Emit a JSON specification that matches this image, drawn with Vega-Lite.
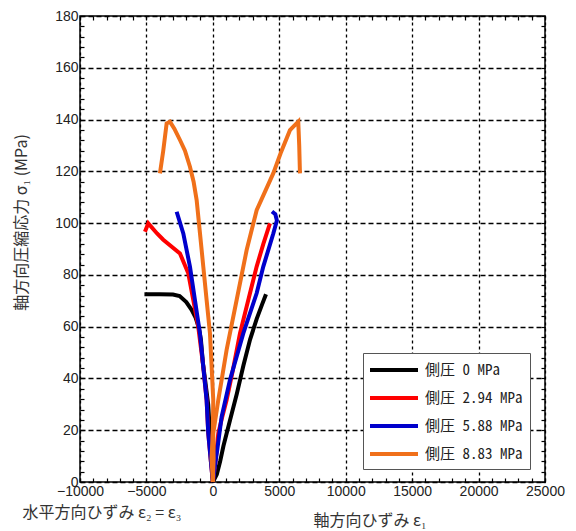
{
  "$schema": "https://vega.github.io/schema/vega-lite/v6.json",
  "width": 465,
  "height": 466,
  "autosize": "none",
  "padding": {"left": 80, "top": 16, "right": 31, "bottom": 49},
  "background": "white",
  "config": {
    "view": {"stroke": "black", "strokeWidth": 1.5},
    "axis": {"labelFont": "Liberation Sans", "labelFontSize": 14, "labelColor": "#222", "titleFont": "Noto Sans CJK JP", "titleFontWeight": "normal", "titleFontSize": 16, "titleColor": "#333"}
  },
  "data": {"values": [
    {"s": "側圧 0 MPa", "p": "a", "i": 0, "x": 0, "y": 0},
    {"s": "側圧 0 MPa", "p": "a", "i": 1, "x": 300, "y": 3},
    {"s": "側圧 0 MPa", "p": "a", "i": 2, "x": 550, "y": 8},
    {"s": "側圧 0 MPa", "p": "a", "i": 3, "x": 800, "y": 14},
    {"s": "側圧 0 MPa", "p": "a", "i": 4, "x": 1300, "y": 24},
    {"s": "側圧 0 MPa", "p": "a", "i": 5, "x": 1800, "y": 34},
    {"s": "側圧 0 MPa", "p": "a", "i": 6, "x": 2300, "y": 45},
    {"s": "側圧 0 MPa", "p": "a", "i": 7, "x": 2800, "y": 55},
    {"s": "側圧 0 MPa", "p": "a", "i": 8, "x": 3300, "y": 63},
    {"s": "側圧 0 MPa", "p": "a", "i": 9, "x": 3700, "y": 68.5},
    {"s": "側圧 0 MPa", "p": "a", "i": 10, "x": 4000, "y": 72.5},
    {"s": "側圧 0 MPa", "p": "l", "i": 0, "x": 0, "y": 0},
    {"s": "側圧 0 MPa", "p": "l", "i": 1, "x": -120, "y": 10},
    {"s": "側圧 0 MPa", "p": "l", "i": 2, "x": -220, "y": 19},
    {"s": "側圧 0 MPa", "p": "l", "i": 3, "x": -350, "y": 30},
    {"s": "側圧 0 MPa", "p": "l", "i": 4, "x": -550, "y": 38},
    {"s": "側圧 0 MPa", "p": "l", "i": 5, "x": -750, "y": 46},
    {"s": "側圧 0 MPa", "p": "l", "i": 6, "x": -900, "y": 55},
    {"s": "側圧 0 MPa", "p": "l", "i": 7, "x": -1050, "y": 59.5},
    {"s": "側圧 0 MPa", "p": "l", "i": 8, "x": -1300, "y": 63.5},
    {"s": "側圧 0 MPa", "p": "l", "i": 9, "x": -1600, "y": 66.5},
    {"s": "側圧 0 MPa", "p": "l", "i": 10, "x": -2000, "y": 69.5},
    {"s": "側圧 0 MPa", "p": "l", "i": 11, "x": -2500, "y": 71.8},
    {"s": "側圧 0 MPa", "p": "l", "i": 12, "x": -3000, "y": 72.4},
    {"s": "側圧 0 MPa", "p": "l", "i": 13, "x": -4000, "y": 72.5},
    {"s": "側圧 0 MPa", "p": "l", "i": 14, "x": -5150, "y": 72.5},
    {"s": "側圧 2.94 MPa", "p": "a", "i": 0, "x": 0, "y": 0},
    {"s": "側圧 2.94 MPa", "p": "a", "i": 1, "x": 200, "y": 8},
    {"s": "側圧 2.94 MPa", "p": "a", "i": 2, "x": 409, "y": 18.8},
    {"s": "側圧 2.94 MPa", "p": "a", "i": 3, "x": 700, "y": 25},
    {"s": "側圧 2.94 MPa", "p": "a", "i": 4, "x": 1036, "y": 31.7},
    {"s": "側圧 2.94 MPa", "p": "a", "i": 5, "x": 1500, "y": 43},
    {"s": "側圧 2.94 MPa", "p": "a", "i": 6, "x": 2040, "y": 57.4},
    {"s": "側圧 2.94 MPa", "p": "a", "i": 7, "x": 2700, "y": 71},
    {"s": "側圧 2.94 MPa", "p": "a", "i": 8, "x": 3297, "y": 83.2},
    {"s": "側圧 2.94 MPa", "p": "a", "i": 9, "x": 3800, "y": 92},
    {"s": "側圧 2.94 MPa", "p": "a", "i": 10, "x": 4298, "y": 99.9},
    {"s": "側圧 2.94 MPa", "p": "l", "i": 0, "x": 0, "y": 0},
    {"s": "側圧 2.94 MPa", "p": "l", "i": 1, "x": -150, "y": 8},
    {"s": "側圧 2.94 MPa", "p": "l", "i": 2, "x": -345, "y": 18.8},
    {"s": "側圧 2.94 MPa", "p": "l", "i": 3, "x": -470, "y": 31.7},
    {"s": "側圧 2.94 MPa", "p": "l", "i": 4, "x": -720, "y": 44.5},
    {"s": "側圧 2.94 MPa", "p": "l", "i": 5, "x": -1099, "y": 60},
    {"s": "側圧 2.94 MPa", "p": "l", "i": 6, "x": -1475, "y": 70.3},
    {"s": "側圧 2.94 MPa", "p": "l", "i": 7, "x": -1850, "y": 80.6},
    {"s": "側圧 2.94 MPa", "p": "l", "i": 8, "x": -2476, "y": 88.3},
    {"s": "側圧 2.94 MPa", "p": "l", "i": 9, "x": -3733, "y": 93.6},
    {"s": "側圧 2.94 MPa", "p": "l", "i": 10, "x": -4200, "y": 96},
    {"s": "側圧 2.94 MPa", "p": "l", "i": 11, "x": -4862, "y": 99.9},
    {"s": "側圧 2.94 MPa", "p": "l", "i": 12, "x": -5111, "y": 96.7},
    {"s": "側圧 5.88 MPa", "p": "a", "i": 0, "x": 0, "y": 0},
    {"s": "側圧 5.88 MPa", "p": "a", "i": 1, "x": 150, "y": 6},
    {"s": "側圧 5.88 MPa", "p": "a", "i": 2, "x": 330, "y": 12.4},
    {"s": "側圧 5.88 MPa", "p": "a", "i": 3, "x": 660, "y": 25.2},
    {"s": "側圧 5.88 MPa", "p": "a", "i": 4, "x": 1287, "y": 39.4},
    {"s": "側圧 5.88 MPa", "p": "a", "i": 5, "x": 2290, "y": 57.4},
    {"s": "側圧 5.88 MPa", "p": "a", "i": 6, "x": 3297, "y": 72.9},
    {"s": "側圧 5.88 MPa", "p": "a", "i": 7, "x": 3795, "y": 83.2},
    {"s": "側圧 5.88 MPa", "p": "a", "i": 8, "x": 4550, "y": 96},
    {"s": "側圧 5.88 MPa", "p": "a", "i": 9, "x": 4820, "y": 101},
    {"s": "側圧 5.88 MPa", "p": "a", "i": 10, "x": 4700, "y": 103.5},
    {"s": "側圧 5.88 MPa", "p": "a", "i": 11, "x": 4450, "y": 104.5},
    {"s": "側圧 5.88 MPa", "p": "l", "i": 0, "x": 0, "y": 0},
    {"s": "側圧 5.88 MPa", "p": "l", "i": 1, "x": -150, "y": 8},
    {"s": "側圧 5.88 MPa", "p": "l", "i": 2, "x": -345, "y": 18.8},
    {"s": "側圧 5.88 MPa", "p": "l", "i": 3, "x": -470, "y": 31.7},
    {"s": "側圧 5.88 MPa", "p": "l", "i": 4, "x": -720, "y": 44.5},
    {"s": "側圧 5.88 MPa", "p": "l", "i": 5, "x": -972, "y": 57.4},
    {"s": "側圧 5.88 MPa", "p": "l", "i": 6, "x": -1349, "y": 70.3},
    {"s": "側圧 5.88 MPa", "p": "l", "i": 7, "x": -1724, "y": 83.2},
    {"s": "側圧 5.88 MPa", "p": "l", "i": 8, "x": -2225, "y": 96},
    {"s": "側圧 5.88 MPa", "p": "l", "i": 9, "x": -2725, "y": 104.4},
    {"s": "側圧 8.83 MPa", "p": "a", "i": 0, "x": 0, "y": 0},
    {"s": "側圧 8.83 MPa", "p": "a", "i": 1, "x": 60, "y": 9},
    {"s": "側圧 8.83 MPa", "p": "a", "i": 2, "x": 30, "y": 18.8},
    {"s": "側圧 8.83 MPa", "p": "a", "i": 3, "x": 409, "y": 31.7},
    {"s": "側圧 8.83 MPa", "p": "a", "i": 4, "x": 1036, "y": 51},
    {"s": "側圧 8.83 MPa", "p": "a", "i": 5, "x": 1790, "y": 70.3},
    {"s": "側圧 8.83 MPa", "p": "a", "i": 6, "x": 2544, "y": 89.6},
    {"s": "側圧 8.83 MPa", "p": "a", "i": 7, "x": 3297, "y": 105},
    {"s": "側圧 8.83 MPa", "p": "a", "i": 8, "x": 4546, "y": 119.2},
    {"s": "側圧 8.83 MPa", "p": "a", "i": 9, "x": 5100, "y": 127},
    {"s": "側圧 8.83 MPa", "p": "a", "i": 10, "x": 5803, "y": 135.9},
    {"s": "側圧 8.83 MPa", "p": "a", "i": 11, "x": 6428, "y": 139.2},
    {"s": "側圧 8.83 MPa", "p": "a", "i": 12, "x": 6500, "y": 130},
    {"s": "側圧 8.83 MPa", "p": "a", "i": 13, "x": 6556, "y": 119.2},
    {"s": "側圧 8.83 MPa", "p": "l", "i": 0, "x": 0, "y": 0},
    {"s": "側圧 8.83 MPa", "p": "l", "i": 1, "x": -100, "y": 9},
    {"s": "側圧 8.83 MPa", "p": "l", "i": 2, "x": 0, "y": 20},
    {"s": "側圧 8.83 MPa", "p": "l", "i": 3, "x": 30, "y": 31.7},
    {"s": "側圧 8.83 MPa", "p": "l", "i": 4, "x": -92, "y": 44.5},
    {"s": "側圧 8.83 MPa", "p": "l", "i": 5, "x": -218, "y": 57.4},
    {"s": "側圧 8.83 MPa", "p": "l", "i": 6, "x": -470, "y": 70.3},
    {"s": "側圧 8.83 MPa", "p": "l", "i": 7, "x": -720, "y": 83.2},
    {"s": "側圧 8.83 MPa", "p": "l", "i": 8, "x": -970, "y": 96.1},
    {"s": "側圧 8.83 MPa", "p": "l", "i": 9, "x": -1220, "y": 108.9},
    {"s": "側圧 8.83 MPa", "p": "l", "i": 10, "x": -1450, "y": 116},
    {"s": "側圧 8.83 MPa", "p": "l", "i": 11, "x": -1724, "y": 121.8},
    {"s": "側圧 8.83 MPa", "p": "l", "i": 12, "x": -2100, "y": 128},
    {"s": "側圧 8.83 MPa", "p": "l", "i": 13, "x": -2476, "y": 132.1},
    {"s": "側圧 8.83 MPa", "p": "l", "i": 14, "x": -2900, "y": 136.5},
    {"s": "側圧 8.83 MPa", "p": "l", "i": 15, "x": -3230, "y": 139.2},
    {"s": "側圧 8.83 MPa", "p": "l", "i": 16, "x": -3480, "y": 138.5},
    {"s": "側圧 8.83 MPa", "p": "l", "i": 17, "x": -3733, "y": 128},
    {"s": "側圧 8.83 MPa", "p": "l", "i": 18, "x": -3982, "y": 119.2}
  ]},
  "resolve": {"axis": {"x": "independent", "y": "independent"}},
  "layer": [
    {
      "mark": {"type": "line", "opacity": 0},
      "encoding": {
        "x": {"field": "x", "type": "quantitative", "scale": {"domain": [-10000, 25000], "nice": false},
          "axis": {"orient": "top", "values": [-10000,-9000,-8000,-7000,-6000,-5000,-4000,-3000,-2000,-1000,0,1000,2000,3000,4000,5000,6000,7000,8000,9000,10000,11000,12000,13000,14000,15000,16000,17000,18000,19000,20000,21000,22000,23000,24000,25000],
            "labels": false, "grid": false, "domain": false, "title": null, "tickSize": -4, "tickColor": "black", "tickWidth": 1.2}},
        "y": {"field": "y", "type": "quantitative", "scale": {"domain": [0, 180], "nice": false},
          "axis": {"orient": "right", "values": [0,4,8,12,16,20,24,28,32,36,40,44,48,52,56,60,64,68,72,76,80,84,88,92,96,100,104,108,112,116,120,124,128,132,136,140,144,148,152,156,160,164,168,172,176,180],
            "labels": false, "grid": false, "domain": false, "title": null, "tickSize": -4, "tickColor": "black", "tickWidth": 1.2}},
        "detail": {"field": "p"},
        "order": {"field": "i"}
      }
    },
    {
      "mark": {"type": "line", "opacity": 0},
      "encoding": {
        "x": {"field": "x", "type": "quantitative", "scale": {"domain": [-10000, 25000], "nice": false},
          "axis": {"orient": "bottom", "labels": false, "ticks": false, "grid": false, "domain": false,
            "title": "水平方向ひずみ ε₂ = ε₃", "titleAnchor": "start", "titleAlign": "left", "titleBaseline": "alphabetic", "titleX": -58, "titleY": 35}},
        "y": {"field": "y", "type": "quantitative", "axis": null},
        "detail": {"field": "p"},
        "order": {"field": "i"}
      }
    },
    {
      "mark": {"type": "line", "strokeWidth": 4},
      "encoding": {
        "x": {"field": "x", "type": "quantitative", "scale": {"domain": [-10000, 25000], "nice": false},
          "axis": {"orient": "bottom", "values": [-10000,-9000,-8000,-7000,-6000,-5000,-4000,-3000,-2000,-1000,0,1000,2000,3000,4000,5000,6000,7000,8000,9000,10000,11000,12000,13000,14000,15000,16000,17000,18000,19000,20000,21000,22000,23000,24000,25000],
            "labelExpr": "datum.value % 5000 == 0 ? replace(format(datum.value, 'd'), '-', '−') : ''", "labelPadding": 6, "labelFlush": false,
            "grid": true, "gridColor": "black", "gridWidth": 1.3, "gridDash": [3, 3],
            "gridOpacity": {"condition": {"test": "datum.value % 5000 == 0", "value": 1}, "value": 0},
            "domain": false, "tickSize": -4, "tickColor": "black", "tickWidth": 1.2,
            "title": "軸方向ひずみ ε₁", "titleAnchor": "start", "titleAlign": "left", "titleBaseline": "alphabetic", "titleX": 233, "titleY": 43}},
        "y": {"field": "y", "type": "quantitative", "scale": {"domain": [0, 180], "nice": false},
          "axis": {"orient": "left", "values": [0,4,8,12,16,20,24,28,32,36,40,44,48,52,56,60,64,68,72,76,80,84,88,92,96,100,104,108,112,116,120,124,128,132,136,140,144,148,152,156,160,164,168,172,176,180],
            "labelExpr": "datum.value % 20 == 0 ? datum.label : ''", "labelPadding": 6, "labelFlush": false,
            "grid": true, "gridColor": "black", "gridWidth": 1.3, "gridDash": [5, 3],
            "gridOpacity": {"condition": {"test": "datum.value % 20 == 0", "value": 1}, "value": 0},
            "domain": false, "tickSize": -4, "tickColor": "black", "tickWidth": 1.2,
            "title": "軸方向圧縮応力 σ₁ (MPa)", "titleAnchor": "middle", "titleAngle": -90, "titleX": -54, "titleY": 206, "titleBaseline": "alphabetic"}},
        "color": {"field": "s", "type": "nominal",
          "scale": {"domain": ["側圧 0 MPa", "側圧 2.94 MPa", "側圧 5.88 MPa", "側圧 8.83 MPa"], "range": ["#000000", "#ff0000", "#0000cc", "#f0701a"]},
          "legend": {"orient": "none", "legendX": 283, "legendY": 337, "title": null, "symbolType": "M-3,0H3", "symbolSize": 256, "symbolStrokeWidth": 4, "symbolOffset": 14,
            "labelFont": "Noto Sans Mono CJK JP", "labelFontSize": 15, "labelColor": "#222", "rowPadding": 10, "labelOffset": 21,
            "fillColor": "white", "strokeColor": "#555", "padding": 7, "labelLimit": 200}},
        "detail": {"field": "p"},
        "order": {"field": "i"}
      }
    }
  ]
}
